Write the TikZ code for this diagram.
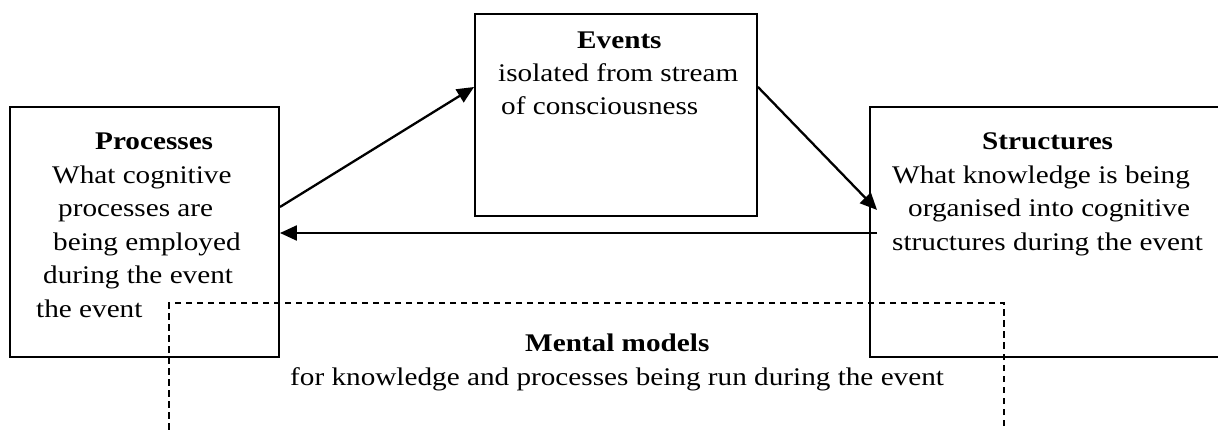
\documentclass[tikz,border=0pt]{standalone}
\usepackage{fontspec}
\setmainfont{Liberation Serif}[FakeStretch=1.15]
\usetikzlibrary{arrows.meta}

\tikzset{
  box/.style={draw=black, line width=1.9pt, rectangle, inner sep=0pt},
  dashbox/.style={draw=black, line width=1.4pt, dash pattern=on 6.5pt off 4.5pt, rectangle, inner sep=0pt},
  txt/.style={inner sep=0pt, anchor=base west, font=\fontsize{25.4}{33}\selectfont},
  head/.style={txt, font=\fontsize{25.4}{33}\selectfont\bfseries},
  link/.style={line width=2.3pt, -{Triangle[length=17pt,width=15pt]}}
}

\begin{document}
\begin{tikzpicture}[x=1pt, y=-1pt]
  \useasboundingbox (0,0) rectangle (1218,430);
  \clip (0,0) rectangle (1218,430);

  % the three solid boxes
  \node[box, minimum width=269pt, minimum height=250pt] (proc) at (144.5,232) {};
  \node[box, minimum width=282pt, minimum height=202pt] (ev)   at (616,115) {};
  \node[box, minimum width=370pt, minimum height=250pt] (str)  at (1055,232) {};

  % dashed box for mental models, running off the lower edge
  \node[dashbox, minimum width=835pt, minimum height=157pt] (mm) at (586.5,381.5) {};

  % Processes text
  \node[head] (p0) at (95,150)  {Processes};
  \node[txt]  (p1) at (52,183.5) {What cognitive};
  \node[txt]  (p2) at (58,217)  {processes are};
  \node[txt]  (p3) at (53,250.5) {being employed};
  \node[txt]  (p4) at (43,284)  {during the event};
  \node[txt]  (p5) at (36,317.5) {the event};

  % Events text
  \node[head] (e0) at (577,49)  {Events};
  \node[txt]  (e1) at (498,82)  {isolated from stream};
  \node[txt]  (e2) at (501,115) {of consciousness};

  % Structures text
  \node[head] (s0) at (982,150)  {Structures};
  \node[txt]  (s1) at (892,183.5) {What knowledge is being};
  \node[txt]  (s2) at (908,217)  {organised into cognitive};
  \node[txt]  (s3) at (892,250.5) {structures during the event};

  % Mental models text
  \node[head] (m0) at (525,352) {Mental models};
  \node[txt]  (m1) at (290,385) {for knowledge and processes being run during the event};

  % connectors
  \draw[link] ([yshift=25pt]proc.east) -- ([yshift=28pt]ev.west);
  \draw[link] ([yshift=28pt]ev.east) -- ([xshift=8pt,yshift=22pt]str.west);
  \draw[link] ([xshift=8pt,yshift=-1pt]str.west) -- ([yshift=-1pt]proc.east);
\end{tikzpicture}
\end{document}
